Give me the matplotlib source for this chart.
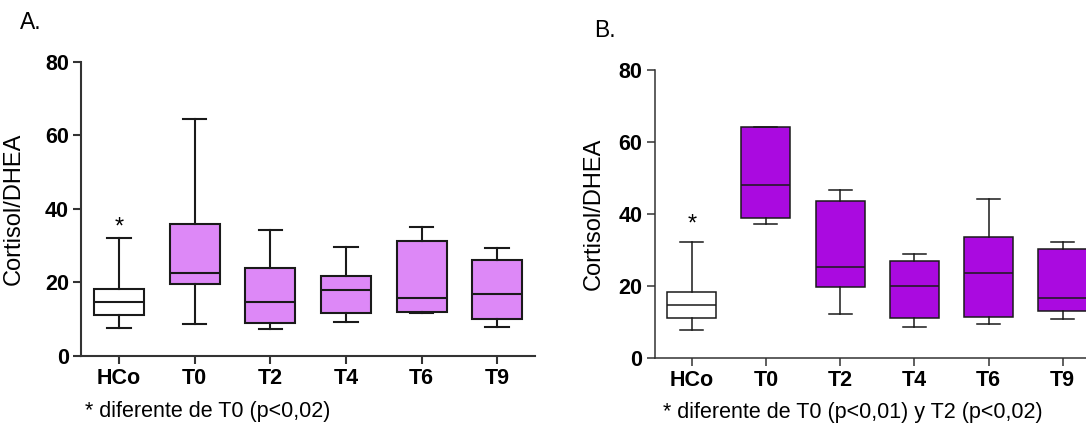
import matplotlib
matplotlib.use("Agg")
import matplotlib.pyplot as plt

plt.rcParams['font.family'] = ['Liberation Sans', 'DejaVu Sans']

groups = ['HCo', 'T0', 'T2', 'T4', 'T6', 'T9']

# Panel A: box statistics
a_low = [7.7, 8.6, 7.4, 9.3, 11.6, 7.8]
a_q1 = [11.2, 19.5, 9.0, 11.6, 11.9, 10.2]
a_med = [14.7, 22.5, 14.6, 17.9, 15.8, 17.0]
a_q3 = [18.2, 35.9, 23.9, 21.9, 31.3, 26.0]
a_high = [32.2, 64.6, 34.3, 29.7, 35.2, 29.3]

# Panel B
b_low = [7.7, 37.2, 12.3, 8.5, 9.3, 10.9]
b_q1 = [11.0, 39.0, 19.6, 11.0, 11.3, 13.0]
b_med = [14.7, 48.2, 25.2, 20.0, 23.5, 16.5]
b_q3 = [18.2, 64.1, 43.6, 27.0, 33.6, 30.3]
b_high = [32.1, 64.3, 46.7, 29.0, 44.2, 32.2]

star_a = 35.0
star_b = 37.0


def make_stats(low, q1, med, q3, high):
    stats = []
    for i in range(len(groups)):
        stats.append({'whislo': low[i], 'q1': q1[i], 'med': med[i],
                      'q3': q3[i], 'whishi': high[i], 'fliers': []})
    return stats


def draw_panel(ax, stats, fill, lw, star_y, label_x):
    lp = dict(color='#1a1a1a', linewidth=lw)
    bp = ax.bxp(stats, positions=range(len(groups)), widths=0.66,
                capwidths=0.31, patch_artist=True, showfliers=False,
                boxprops=dict(edgecolor='#1a1a1a', linewidth=lw),
                medianprops=lp, whiskerprops=lp, capprops=lp)
    for i, box in enumerate(bp['boxes']):
        box.set_facecolor('white' if i == 0 else fill)
    ax.set_xlim(-0.5, 5.5)
    ax.set_ylim(0, 80)
    ax.set_yticks([0, 20, 40, 60, 80])
    ax.set_xticks(range(len(groups)))
    ax.set_xticklabels(groups)
    for s in ['top', 'right']:
        ax.spines[s].set_visible(False)
    for s in ['left', 'bottom']:
        ax.spines[s].set_linewidth(lw)
        ax.spines[s].set_color('#333333')
    ax.tick_params(length=6, width=lw, color='#333333', labelsize=15.5, pad=3)
    for t in ax.get_xticklabels() + ax.get_yticklabels():
        t.set_fontweight('bold')
    ax.set_ylabel('Cortisol/DHEA', fontsize=17)
    ax.yaxis.set_label_coords(label_x, 0.5)
    ax.text(0, star_y, '*', ha='center', va='center', fontsize=17)


fig = plt.figure(figsize=(10.86, 4.24), dpi=100)
ax1 = fig.add_axes([0.0749, 0.1604, 0.4177, 0.6934])
ax2 = fig.add_axes([0.6028, 0.1564, 0.4099, 0.6778])

draw_panel(ax1, make_stats(a_low, a_q1, a_med, a_q3, a_high), '#dd88f7', 1.5, star_a, -0.124)
draw_panel(ax2, make_stats(b_low, b_q1, b_med, b_q3, b_high), '#aa0ae0', 1.1, star_b, -0.111)

fig.text(0.0184, 0.9458, 'A.', fontsize=16.5, va='center')
fig.text(0.5473, 0.927, 'B.', fontsize=16.5, va='center')
fig.text(0.0783, 0.029, '* diferente de T0 (p<0,02)', fontsize=15.5, va='center')
fig.text(0.6103, 0.026, '* diferente de T0 (p<0,01) y T2 (p<0,02)', fontsize=15.5, va='center')

fig.savefig('out.png', dpi=100)
